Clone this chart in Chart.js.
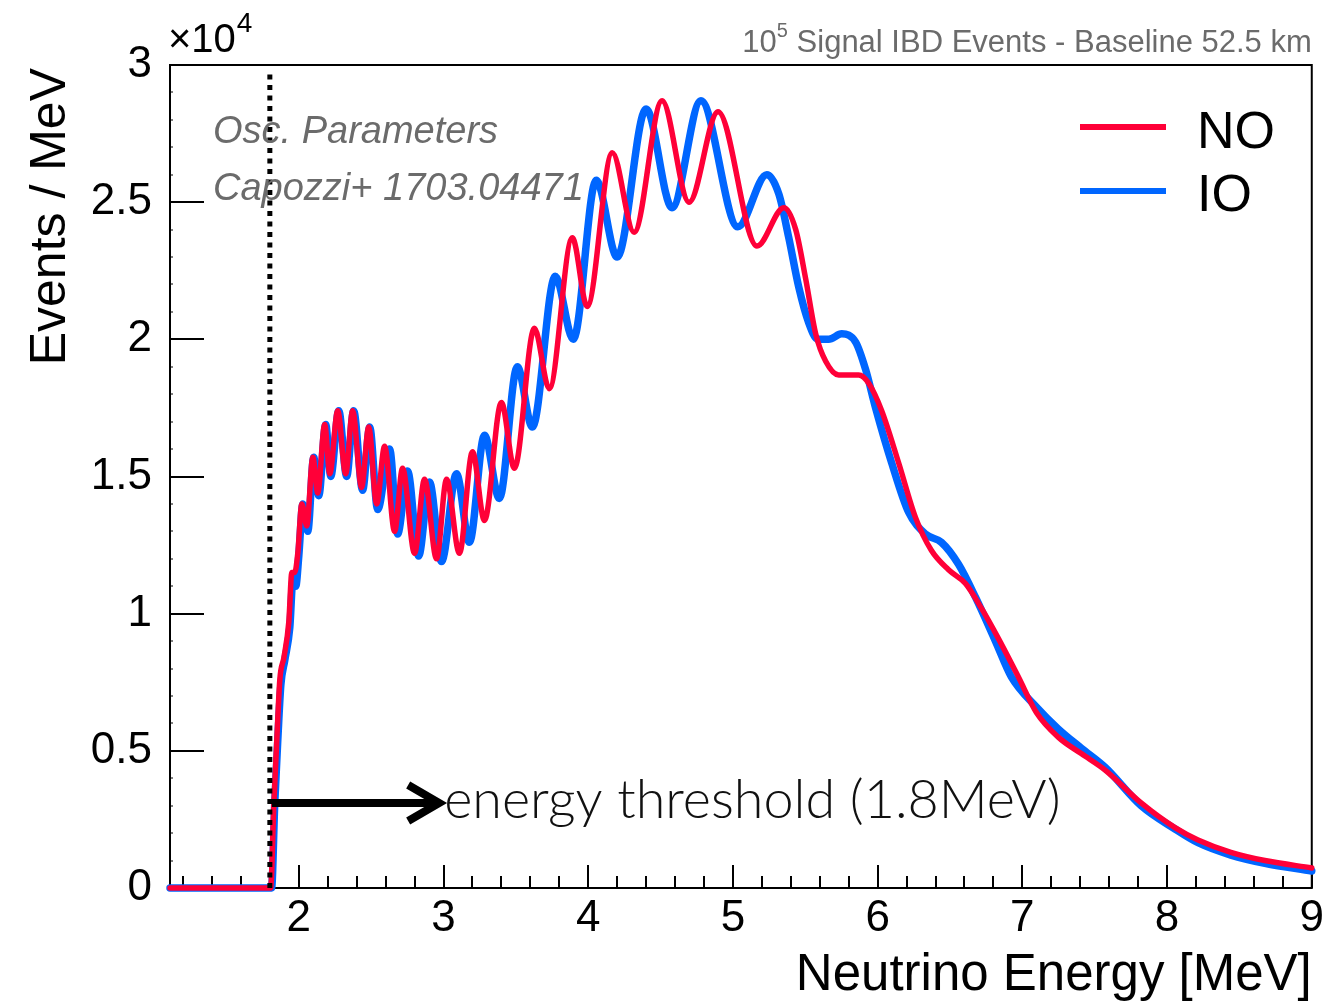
<!DOCTYPE html>
<html>
<head>
<meta charset="utf-8">
<title>IBD spectrum NO vs IO</title>
<script src="https://cdn.jsdelivr.net/npm/chart.js@4.4.0/dist/chart.umd.min.js"></script>
<style>
  html, body { margin: 0; padding: 0; background: #fff; }
  #wrap { width: 1328px; height: 1003px; position: relative; }
</style>
</head>
<body>
<div id="wrap"><canvas id="spectrum"></canvas></div>
<script>
// energies in MeV, rates in units of 1e4 events / MeV
const noEnergy = [1.11, 1.805, 1.828, 1.848, 1.869, 1.897, 1.931, 1.952, 1.972, 1.993,
  2.021, 2.055, 2.097, 2.131, 2.179, 2.214, 2.269, 2.324, 2.372, 2.434,
  2.483, 2.538, 2.593, 2.662, 2.717, 2.800, 2.869, 2.952, 3.021, 3.110,
  3.200, 3.283, 3.400, 3.490, 3.628, 3.731, 3.890, 3.993, 4.166, 4.317,
  4.510, 4.697, 4.897, 5.166, 5.352, 5.434, 5.503, 5.572, 5.641, 5.731,
  5.869, 5.938, 6.028, 6.145, 6.262, 6.372, 6.490, 6.607, 6.717, 6.834,
  6.972, 7.097, 7.248, 7.407, 7.572, 7.821, 8.055, 8.214, 8.441, 8.676, 9.0];
const noRate = [0, 0, 0.31, 0.54, 0.76, 0.84, 0.97, 1.15, 1.15, 1.22,
  1.40, 1.32, 1.57, 1.44, 1.69, 1.51, 1.74, 1.51, 1.74, 1.46,
  1.68, 1.40, 1.61, 1.30, 1.53, 1.22, 1.49, 1.20, 1.49, 1.22,
  1.59, 1.34, 1.77, 1.53, 2.04, 1.82, 2.37, 2.12, 2.68, 2.39,
  2.87, 2.50, 2.83, 2.34, 2.48, 2.40, 2.22, 2.02, 1.92, 1.87,
  1.87, 1.84, 1.74, 1.55, 1.35, 1.23, 1.16, 1.11, 1.02, 0.91,
  0.77, 0.64, 0.55, 0.49, 0.43, 0.31, 0.22, 0.175, 0.13, 0.10, 0.073];

const ioEnergy = [1.11, 1.812, 1.834, 1.855, 1.876, 1.903, 1.938, 1.959, 1.979, 2.000,
  2.028, 2.062, 2.103, 2.138, 2.186, 2.221, 2.276, 2.331, 2.379, 2.441,
  2.490, 2.545, 2.628, 2.683, 2.752, 2.828, 2.903, 2.986, 3.090, 3.179,
  3.283, 3.386, 3.510, 3.614, 3.772, 3.897, 4.055, 4.200, 4.400, 4.579,
  4.779, 5.034, 5.234, 5.317, 5.386, 5.455, 5.524, 5.586, 5.662, 5.752,
  5.848, 5.917, 5.986, 6.097, 6.214, 6.331, 6.441, 6.559, 6.676, 6.814,
  6.924, 7.097, 7.248, 7.407, 7.572, 7.821, 8.055, 8.214, 8.441, 8.676, 9.0];
const ioRate = [0, 0, 0.31, 0.54, 0.74, 0.83, 0.95, 1.12, 1.10, 1.21,
  1.40, 1.30, 1.57, 1.43, 1.69, 1.50, 1.74, 1.50, 1.74, 1.45,
  1.68, 1.38, 1.60, 1.29, 1.52, 1.21, 1.48, 1.19, 1.51, 1.26,
  1.65, 1.42, 1.90, 1.68, 2.23, 2.00, 2.58, 2.30, 2.84, 2.48,
  2.87, 2.41, 2.60, 2.53, 2.37, 2.19, 2.06, 2.00, 2.00, 2.02,
  1.99, 1.89, 1.75, 1.55, 1.37, 1.29, 1.26, 1.18, 1.06, 0.90,
  0.77, 0.66, 0.58, 0.51, 0.44, 0.30, 0.215, 0.165, 0.12, 0.09, 0.062];

const xTicks = [2, 3, 4, 5, 6, 7, 8, 9];
const yTicks = [0, 0.5, 1, 1.5, 2, 2.5, 3];

const threshold = 1.8;      // MeV
const arrowLevel = 0.31;    // 1e4 events / MeV
const arrowEnd = 2.97;      // MeV

const NO_RED = '#ff0038';
const IO_BLUE = '#0066ff';
const GREY = '#6b6b6b';
const SANS = '"Liberation Sans", Arial, Helvetica, sans-serif';

const toPoints = (xs, ys) => xs.map((x, i) => ({ x, y: ys[i] }));

const decor = {
  id: 'decor',
  beforeDatasetsDraw(chart) {
    const { ctx, chartArea: a, scales: { x, y } } = chart;
    ctx.save();
    ctx.strokeStyle = '#000';
    // y ticks: major every 0.5, faint minors every 0.1
    for (let k = 0; k <= 30; k++) {
      const py = Math.round(y.getPixelForValue(k / 10));
      const major = k % 5 === 0;
      ctx.lineWidth = major ? 2 : 1;
      ctx.beginPath();
      ctx.moveTo(a.left, py); ctx.lineTo(a.left + (major ? 34 : 3), py);
      ctx.stroke();
    }
    // x ticks: major every 1, minor every 0.2
    ctx.lineWidth = 2;
    ctx.beginPath();
    for (let k = 6; k <= 45; k++) {
      const px = Math.round(x.getPixelForValue(k / 5));
      const len = k % 5 === 0 ? 23 : 12;
      ctx.moveTo(px, a.bottom); ctx.lineTo(px, a.bottom - len);
    }
    ctx.stroke();
    ctx.strokeRect(a.left, a.top, a.right - a.left, a.bottom - a.top);
    ctx.restore();
  },
  afterDatasetsDraw(chart) {
    const { ctx, chartArea: a, scales: { x, y } } = chart;
    ctx.save();

    // dotted threshold line
    const tx = x.getPixelForValue(threshold);
    ctx.strokeStyle = '#000';
    ctx.lineWidth = 5;
    ctx.setLineDash([5, 5.5]);
    ctx.beginPath();
    ctx.moveTo(tx, y.getPixelForValue(0));
    ctx.lineTo(tx, a.top + 4);
    ctx.stroke();
    ctx.setLineDash([]);

    // arrow
    const ay = y.getPixelForValue(arrowLevel);
    const tip = x.getPixelForValue(arrowEnd);
    ctx.lineWidth = 8;
    ctx.beginPath();
    ctx.moveTo(tx + 2, ay); ctx.lineTo(tip - 4, ay);
    ctx.stroke();
    ctx.beginPath();
    ctx.moveTo(tip - 31, ay - 18); ctx.lineTo(tip, ay); ctx.lineTo(tip - 31, ay + 18);
    ctx.stroke();

    // annotation
    ctx.fillStyle = '#111';
    ctx.textBaseline = 'alphabetic';
    ctx.textAlign = 'left';
    const note = 'energy threshold (1.8MeV)';
    ctx.font = '300 50px Lato, "Open Sans", sans-serif';
    const w = ctx.measureText(note).width;
    ctx.font = `300 ${(50 * 617 / w).toFixed(1)}px Lato, "Open Sans", sans-serif`;
    ctx.fillText(note, tip + 5, ay + 15);

    // legend
    const legend = [['NO', NO_RED, 127, 148], ['IO', IO_BLUE, 191, 211]];
    ctx.font = `52px ${SANS}`;
    legend.forEach(([label, color, ly, by]) => {
      ctx.strokeStyle = color;
      ctx.lineWidth = 6;
      ctx.beginPath(); ctx.moveTo(1080, ly); ctx.lineTo(1166, ly); ctx.stroke();
      ctx.fillStyle = '#000';
      ctx.fillText(label, 1197, by);
    });

    // oscillation parameters note
    ctx.fillStyle = GREY;
    ctx.font = `italic 38px ${SANS}`;
    ctx.fillText('Osc. Parameters', 213, 143);
    ctx.fillText('Capozzi+ 1703.04471', 213, 200);
    ctx.restore();
  },
  afterDraw(chart) {
    const { ctx, chartArea: a } = chart;
    ctx.save();
    ctx.textBaseline = 'alphabetic';

    // x10^4 multiplier
    ctx.fillStyle = '#000';
    ctx.textAlign = 'left';
    ctx.font = `40px ${SANS}`;
    ctx.fillText('\u00d710', 168, 52);
    const mw = ctx.measureText('\u00d710').width;
    ctx.font = `28px ${SANS}`;
    ctx.fillText('4', 168 + mw + 1, 32);

    // top right title
    ctx.fillStyle = GREY;
    ctx.textAlign = 'right';
    ctx.font = `31px ${SANS}`;
    const rest = ' Signal IBD Events - Baseline 52.5 km';
    ctx.fillText(rest, a.right, 52);
    let cx = a.right - ctx.measureText(rest).width;
    ctx.font = `20px ${SANS}`;
    ctx.fillText('5', cx, 37);
    cx -= ctx.measureText('5').width;
    ctx.font = `31px ${SANS}`;
    ctx.fillText('10', cx, 52);

    // axis titles
    ctx.fillStyle = '#000';
    ctx.font = `51px ${SANS}`;
    ctx.textAlign = 'right';
    ctx.fillText('Neutrino Energy [MeV]', a.right, 990);
    ctx.font = `50px ${SANS}`;
    ctx.translate(65, 68);
    ctx.rotate(-Math.PI / 2);
    ctx.fillText('Events / MeV', 0, 0);
    ctx.restore();
  }
};

const lineStyle = {
  pointRadius: 0,
  fill: false,
  cubicInterpolationMode: 'monotone',
  borderJoinStyle: 'round',
  borderCapStyle: 'round',
  clip: 10
};

new Chart(document.getElementById('spectrum'), {
  type: 'line',
  data: {
    datasets: [
      { label: 'NO', data: toPoints(noEnergy, noRate), borderColor: NO_RED, borderWidth: 5.5, ...lineStyle },
      { label: 'IO', data: toPoints(ioEnergy, ioRate), borderColor: IO_BLUE, borderWidth: 7.5, ...lineStyle }
    ]
  },
  options: {
    responsive: true,
    maintainAspectRatio: false,
    animation: false,
    events: [],
    layout: { padding: { top: 65, right: 15, left: 0, bottom: 0 } },
    plugins: { legend: { display: false }, tooltip: { enabled: false } },
    scales: {
      x: {
        type: 'linear', min: 1.11, max: 9,
        afterBuildTicks: s => { s.ticks = xTicks.map(v => ({ value: v })); },
        afterFit: s => { s.height = 115; },
        grid: { display: false, drawTicks: false },
        border: { display: false },
        ticks: { autoSkip: false, maxRotation: 0, padding: 4, color: '#000',
                 font: { family: SANS, size: 44 }, callback: v => String(v) }
      },
      y: {
        type: 'linear', min: 0, max: 3,
        afterBuildTicks: s => { s.ticks = yTicks.map(v => ({ value: v })); },
        afterFit: s => { s.width = 170; },
        grid: { display: false, drawTicks: false },
        border: { display: false },
        ticks: { autoSkip: false, padding: 18, color: '#000',
                 font: { family: SANS, size: 44 }, callback: v => String(v) }
      }
    }
  },
  plugins: [decor]
});
</script>
</body>
</html>
